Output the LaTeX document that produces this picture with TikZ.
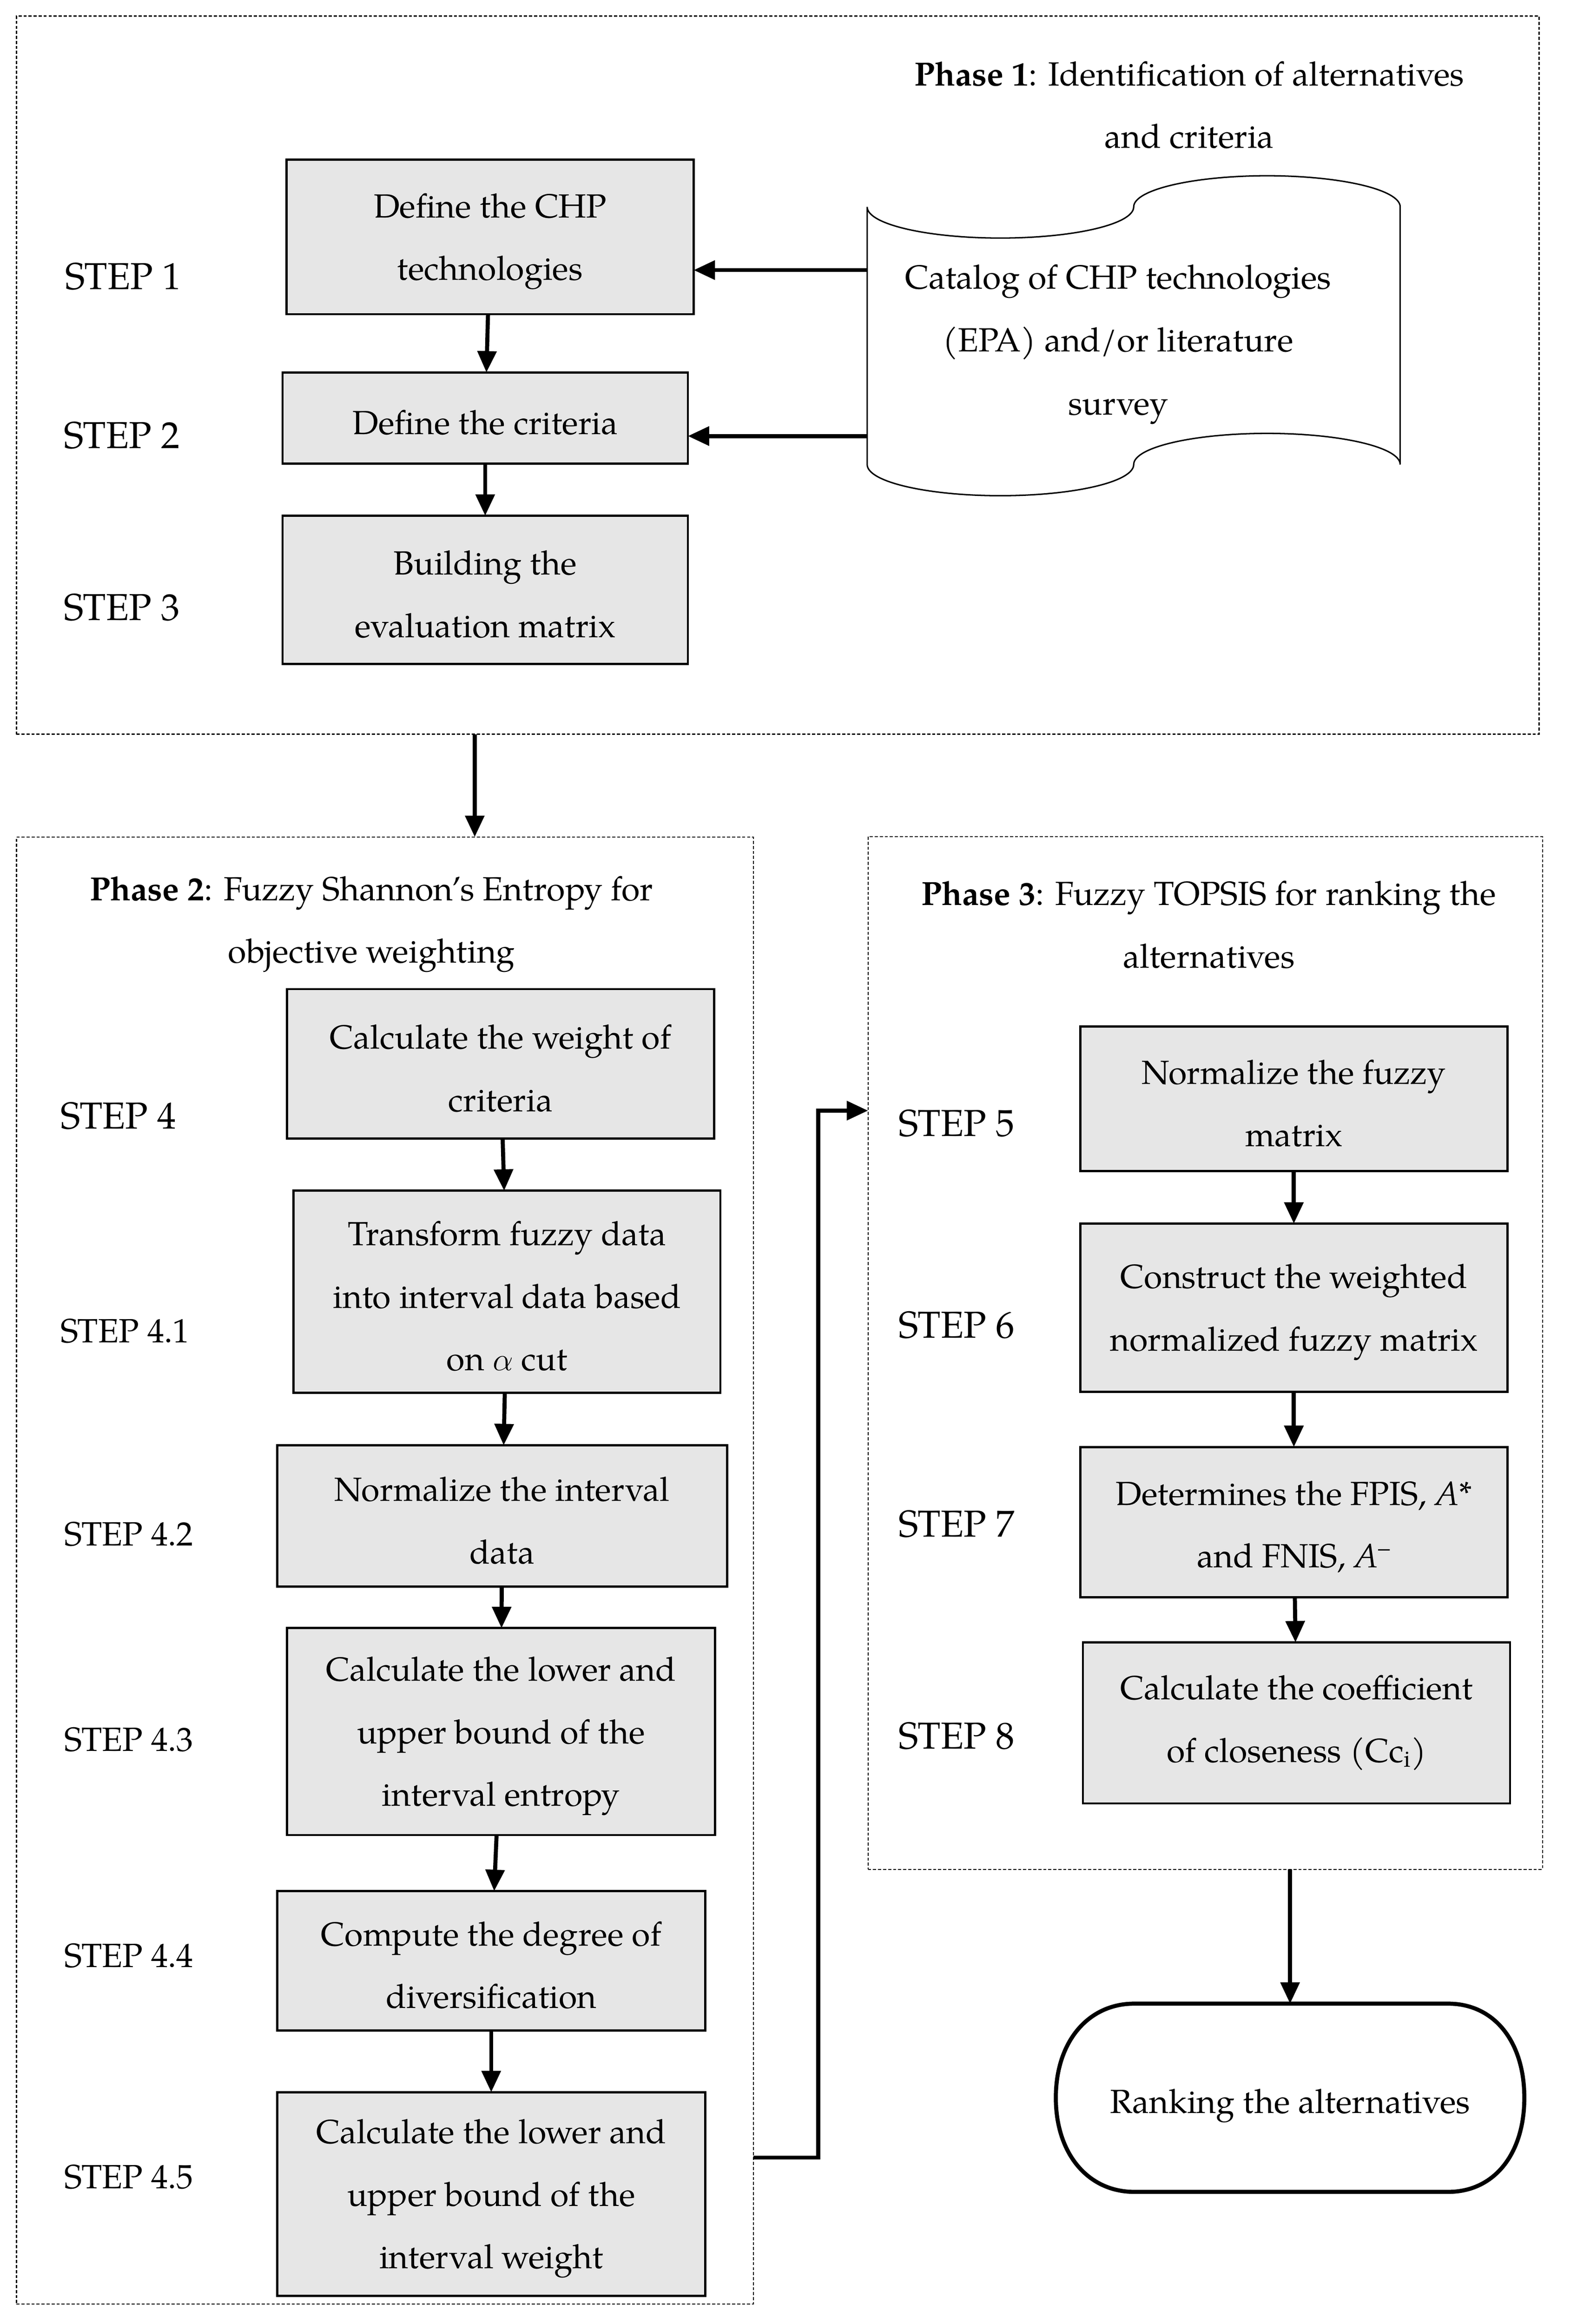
\documentclass[tikz,border=0pt]{standalone}
\usepackage{fontspec}
\setmainfont{TeX Gyre Pagella}
\usetikzlibrary{arrows.meta}
\definecolor{boxgray}{RGB}{230,230,230}
\newcommand{\bxs}{\rule{0pt}{7.5mm}}
\begin{document}
\begin{tikzpicture}[x=1mm,y=-1mm,
  every node/.style={font=\fontsize{21.4}{40}\selectfont, inner sep=0pt, outer sep=0pt},
  box/.style={draw, line width=1.4pt, fill=boxgray, align=center},
  frame/.style={draw, line width=0.7pt, dash pattern=on 2pt off 1.2pt},
  arr/.style={line width=2.6pt, -{Triangle[length=4.8mm,width=4.2mm]}},
  steplbl/.style={anchor=base west, font=\fontsize{24}{30}\selectfont},
  substep/.style={anchor=base west, font=\fontsize{21.5}{30}\selectfont},
  ttl/.style={align=center}]
\useasboundingbox (0,0) rectangle (352.8,522.3);

% phase frames
\node[frame, minimum width=342.2mm, minimum height=161.4mm] (ph1) at (174.8,84.3) {};
\node[frame, minimum width=165.6mm, minimum height=329.7mm] (ph2) at (86.5,352.95) {};
\node[frame, minimum width=151.6mm, minimum height=232.1mm] (ph3) at (270.9,304.05) {};

% titles
\node[ttl] (t1) at (267.3,23.6) {\textbf{Phase 1}: Identification of alternatives\\and criteria};
\node[ttl] (t2) at (83.5,207.7) {\textbf{Phase 2}: Fuzzy Shannon’s Entropy for\\objective weighting};
\node[ttl] (t3) at (271.7,207.8) {\textbf{Phase 3}: Fuzzy TOPSIS for ranking the\\alternatives};

% phase 1 boxes
\node[box, minimum width=91.5mm, minimum height=34.7mm] (b1) at (110.15,53.25) {\bxs Define the CHP\\technologies};
\node[box, minimum width=91.1mm, minimum height=20.5mm] (b2) at (109.05,93.95) {\bxs Define the criteria};
\node[box, minimum width=91.1mm, minimum height=33.3mm] (b3) at (109.05,132.55) {\bxs Building the\\evaluation matrix};

% document shape
\draw[line width=0.9pt] (194.9,46.5) -- (194.9,104.4)
  .. controls (194.9,108.27) and (208.3,111.4) .. (224.8,111.4)
  .. controls (241.4,111.4) and (254.8,108.27) .. (254.8,104.4)
  .. controls (254.8,100.53) and (268.2,97.4) .. (284.8,97.4)
  .. controls (301.3,97.4) and (314.7,100.53) .. (314.7,104.4)
  -- (314.7,46.5)
  .. controls (314.7,42.63) and (301.3,39.5) .. (284.8,39.5)
  .. controls (268.2,39.5) and (254.8,42.63) .. (254.8,46.5)
  .. controls (254.8,50.37) and (241.4,53.5) .. (224.8,53.5)
  .. controls (208.3,53.5) and (194.9,50.37) .. (194.9,46.5) -- cycle;
\node[align=center, font=\fontsize{21.4}{40.3}\selectfont] (doc) at (251.3,77.4) {Catalog of CHP technologies\\(EPA) and/or literature\\survey};
\coordinate (d1) at (194.9,60.7);
\coordinate (d2) at (194.9,98.0);

% step labels
\node[steplbl] (s1) at (14.7,65.0) {STEP 1};
\node[steplbl] (s2) at (14.4,100.8) {STEP 2};
\node[steplbl] (s3) at (14.4,139.4) {STEP 3};
\node[steplbl] (s4) at (13.6,253.7) {STEP 4};
\node[substep] (s41) at (13.6,301.7) {STEP 4.1};
\node[substep] (s42) at (14.5,347.4) {STEP 4.2};
\node[substep] (s43) at (14.5,393.5) {STEP 4.3};
\node[substep] (s44) at (14.5,442.1) {STEP 4.4};
\node[substep] (s45) at (14.5,491.8) {STEP 4.5};
\node[steplbl] (s5) at (202.0,255.3) {STEP 5};
\node[steplbl] (s6) at (202.0,300.7) {STEP 6};
\node[steplbl] (s7) at (202.0,345.4) {STEP 7};
\node[steplbl] (s8) at (202.0,393.0) {STEP 8};

% phase 2 boxes
\node[box, minimum width=96.0mm, minimum height=33.6mm] (b4) at (112.5,239.1) {\bxs Calculate the weight of\\criteria};
\node[box, minimum width=95.9mm, minimum height=45.4mm] (b41) at (113.95,290.3) {\bxs Transform fuzzy data\\into interval data based\\on $\alpha$ cut};
\node[box, minimum width=101.1mm, minimum height=31.8mm] (b42) at (112.85,340.7) {\bxs Normalize the interval\\data};
\node[box, minimum width=96.2mm, minimum height=46.5mm] (b43) at (112.6,389.15) {\bxs Calculate the lower and\\upper bound of the\\interval entropy};
\node[box, minimum width=96.2mm, minimum height=31.3mm] (b44) at (110.4,440.65) {\bxs Compute the degree of\\diversification};
\node[box, minimum width=96.2mm, minimum height=45.8mm] (b45) at (110.4,493.1) {\bxs Calculate the lower and\\upper bound of the\\interval weight};

% phase 3 boxes
\node[box, minimum width=96mm, minimum height=32.5mm] (b5) at (290.8,246.95) {\bxs Normalize the fuzzy\\matrix};
\node[box, minimum width=96mm, minimum height=37.8mm] (b6) at (290.8,293.9) {\bxs Construct the weighted\\normalized fuzzy matrix};
\node[box, minimum width=96mm, minimum height=33.8mm] (b7) at (290.8,342.1) {\bxs Determines the FPIS, \textit{A}*\\and FNIS, \textit{A}\textsuperscript{–}};
\node[box, minimum width=96mm, minimum height=36.2mm] (b8) at (291.4,387.2) {Calculate the coefficient\\of closeness (Cc\textsubscript{i})};

% final terminal
\node[minimum width=105.3mm, minimum height=42.3mm] (rank) at (289.95,471.45) {\rule{0pt}{9mm}Ranking the alternatives};
\draw[line width=2.6pt] (254.9,450.3) -- (325.5,450.3)
  .. controls (335.76,450.3) and (342.6,458.76) .. (342.6,471.45)
  .. controls (342.6,484.14) and (335.76,492.6) .. (325.5,492.6)
  -- (254.9,492.6)
  .. controls (244.64,492.6) and (237.3,484.14) .. (237.3,471.45)
  .. controls (237.3,458.76) and (244.64,450.3) .. (254.9,450.3) -- cycle;

% connectors
\draw[arr] (d1) -- (d1 -| b1.east);
\draw[arr] (d2) -- (d2 -| b2.east);
\draw[arr] (b1) -- (b2);
\draw[arr] (b2) -- (b3);
\coordinate (a12) at (106.7,165.0);
\draw[arr] (a12) -- (a12 |- ph2.north);
\draw[arr] (b4) -- (b41);
\draw[arr] (b41) -- (b42);
\draw[arr] (b42) -- (b43);
\draw[arr] (b43) -- (b44);
\draw[arr] (b44) -- (b45);
\coordinate (c1) at (183.9,484.9);
\coordinate (c2) at (183.9,249.6);
\draw[arr] (c1 -| ph2.east) -- (c1) -- (c2) -- (c2 -| ph3.west);
\draw[arr] (b5) -- (b6);
\draw[arr] (b6) -- (b7);
\draw[arr] (b7) -- (b8);
\draw[arr] (ph3.south -| rank.north) -- (rank.north);
\end{tikzpicture}
\end{document}
